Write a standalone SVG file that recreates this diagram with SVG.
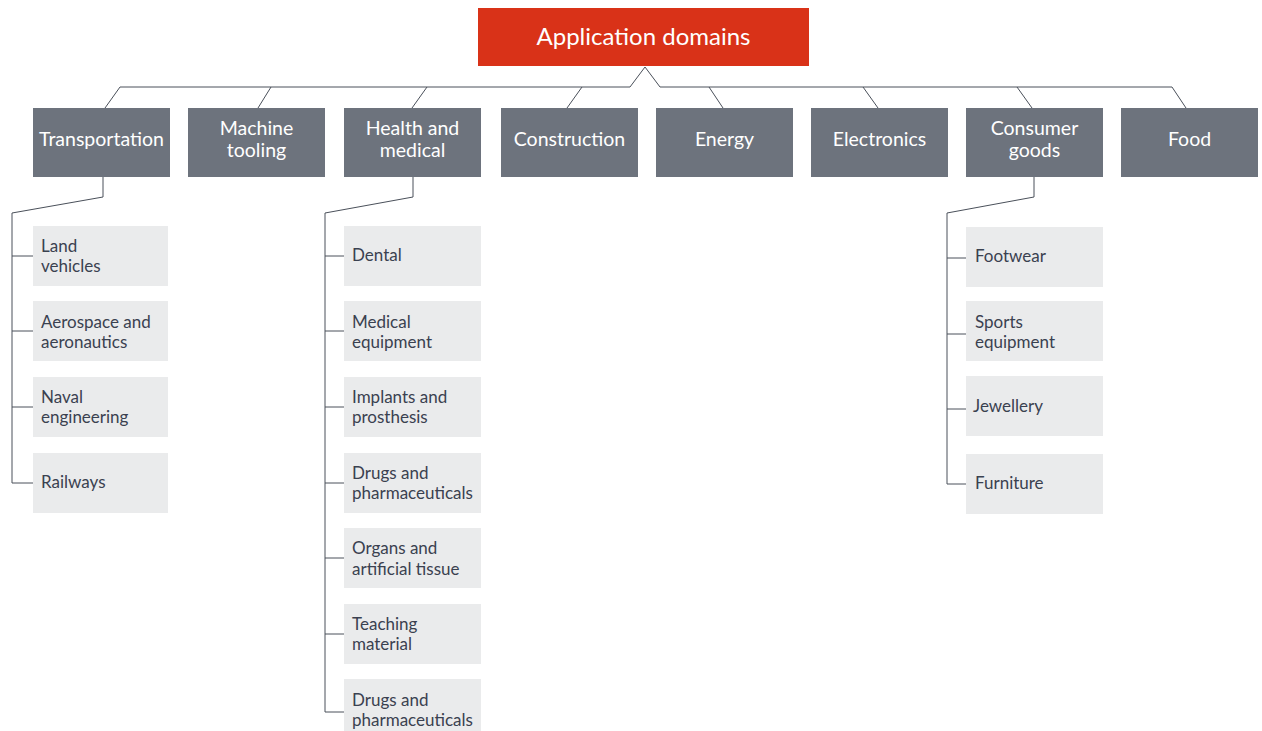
<svg xmlns="http://www.w3.org/2000/svg" width="1262" height="731" viewBox="0 0 1262 731">
<style>
.root{fill:#D93218}
.main{fill:#6D737D}
.sub{fill:#EAEBEC}
.rt{font-family:Lato,"Open Sans",sans-serif;font-size:24px;fill:#fff;text-anchor:middle}
.mt{font-family:Lato,"Open Sans",sans-serif;font-size:19.5px;fill:#fff;text-anchor:middle}
.st{font-family:Lato,"Open Sans",sans-serif;font-size:17px;fill:#3A4150}
.ln{fill:none;stroke:#4A505A;stroke-width:1}
</style>
<rect width="1262" height="731" fill="#fff"/>
<g id="connectors">
<path class="ln" d="M105,108 L120,87 L630,87 L645,67 L660,87 L1172,87 L1186,108"/>
<path class="ln" d="M258,108 L271,87 M412,108 L427,87 M567,108 L582,87 M723,108 L709,87 M878,108 L863,87 M1032,108 L1017,87"/>
<path class="ln" d="M103,177 V197 L12,213 V483 H33 M12,256 H33 M12,331 H33 M12,407 H33"/>
<path class="ln" d="M413,177 V197 L325,213 V712 H344 M325,256 H344 M325,331 H344 M325,407 H344 M325,483 H344 M325,558 H344 M325,634 H344"/>
<path class="ln" d="M1034,177 V197 L947,213 V484 H966 M947,258 H966 M947,334 H966 M947,409 H966"/>
</g>
<g id="root"><rect class="root" x="478" y="8" width="331" height="58"/><text class="rt" x="643.5" y="45">Application domains</text></g>
<g id="transportation"><rect class="main" x="33" y="108" width="137" height="69"/><text class="mt" x="101.5" y="146">Transportation</text></g>
<g id="machine-tooling"><rect class="main" x="188" y="108" width="137" height="69"/><text class="mt" x="256.5" y="135">Machine</text><text class="mt" x="256.5" y="157">tooling</text></g>
<g id="health"><rect class="main" x="344" y="108" width="137" height="69"/><text class="mt" x="412.5" y="135">Health and</text><text class="mt" x="412.5" y="157">medical</text></g>
<g id="construction"><rect class="main" x="501" y="108" width="137" height="69"/><text class="mt" x="569.5" y="146">Construction</text></g>
<g id="energy"><rect class="main" x="656" y="108" width="137" height="69"/><text class="mt" x="724.5" y="146">Energy</text></g>
<g id="electronics"><rect class="main" x="811" y="108" width="137" height="69"/><text class="mt" x="879.5" y="146">Electronics</text></g>
<g id="consumer-goods"><rect class="main" x="966" y="108" width="137" height="69"/><text class="mt" x="1034.5" y="135">Consumer</text><text class="mt" x="1034.5" y="157">goods</text></g>
<g id="food"><rect class="main" x="1121" y="108" width="137" height="69"/><text class="mt" x="1189.5" y="146">Food</text></g>

<g id="land-vehicles"><rect class="sub" x="33" y="226" width="135" height="60"/><text class="st" x="41" y="252">Land</text><text class="st" x="41" y="272">vehicles</text></g>
<g id="aerospace"><rect class="sub" x="33" y="301" width="135" height="60"/><text class="st" x="41" y="328">Aerospace and</text><text class="st" x="41" y="348">aeronautics</text></g>
<g id="naval"><rect class="sub" x="33" y="377" width="135" height="60"/><text class="st" x="41" y="403">Naval</text><text class="st" x="41" y="423">engineering</text></g>
<g id="railways"><rect class="sub" x="33" y="453" width="135" height="60"/><text class="st" x="41" y="488">Railways</text></g>

<g id="dental"><rect class="sub" x="344" y="226" width="137" height="60"/><text class="st" x="352" y="261">Dental</text></g>
<g id="medical-equipment"><rect class="sub" x="344" y="301" width="137" height="60"/><text class="st" x="352" y="328">Medical</text><text class="st" x="352" y="348">equipment</text></g>
<g id="implants"><rect class="sub" x="344" y="377" width="137" height="60"/><text class="st" x="352" y="403">Implants and</text><text class="st" x="352" y="423">prosthesis</text></g>
<g id="drugs-1"><rect class="sub" x="344" y="453" width="137" height="60"/><text class="st" x="352" y="479">Drugs and</text><text class="st" x="352" y="499">pharmaceuticals</text></g>
<g id="organs"><rect class="sub" x="344" y="528" width="137" height="60"/><text class="st" x="352" y="554">Organs and</text><text class="st" x="352" y="575">artificial tissue</text></g>
<g id="teaching"><rect class="sub" x="344" y="604" width="137" height="60"/><text class="st" x="352" y="630">Teaching</text><text class="st" x="352" y="650">material</text></g>
<g id="drugs-2"><rect class="sub" x="344" y="679" width="137" height="60"/><text class="st" x="352" y="706">Drugs and</text><text class="st" x="352" y="726">pharmaceuticals</text></g>

<g id="footwear"><rect class="sub" x="966" y="227" width="137" height="60"/><text class="st" x="975" y="262">Footwear</text></g>
<g id="sports"><rect class="sub" x="966" y="301" width="137" height="60"/><text class="st" x="975" y="328">Sports</text><text class="st" x="975" y="348">equipment</text></g>
<g id="jewellery"><rect class="sub" x="966" y="376" width="137" height="60"/><text class="st" x="973" y="412">Jewellery</text></g>
<g id="furniture"><rect class="sub" x="966" y="454" width="137" height="60"/><text class="st" x="975" y="489">Furniture</text></g>
</svg>
